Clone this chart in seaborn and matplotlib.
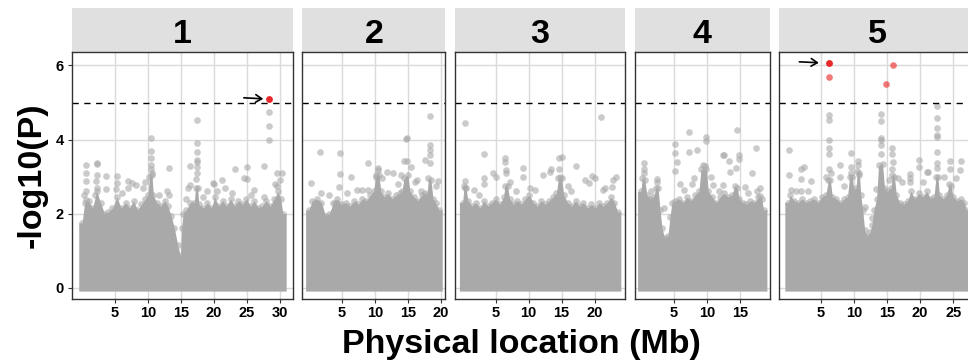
import numpy as np
import pandas as pd
import matplotlib
matplotlib.use("Agg")
import matplotlib.pyplot as plt
from matplotlib.patches import Rectangle
import seaborn as sns

# ---------------------------------------------------------------- data
chrom_names = ["1", "2", "3", "4", "5"]
chrom_length_mb = [30.43, 19.70, 23.46, 18.59, 26.98]
threshold = 5.0

# upper edge of the dense SNP cloud (position Mb, -log10 P)
chr1_envelope = [(0.0, 1.75), (0.4, 2.3), (1.0, 2.35), (1.6, 2.15), (2.2, 2.6), (2.8, 2.3),
                 (3.4, 2.0), (4.0, 2.05), (4.6, 2.15), (5.3, 2.45), (5.9, 2.15), (6.6, 2.3),
                 (7.2, 2.15), (7.8, 2.35), (8.4, 2.1), (9.0, 2.25), (9.6, 2.4), (10.0, 2.5),
                 (10.2, 3.0), (10.6, 3.05), (10.8, 2.5), (11.3, 2.3), (11.9, 2.2), (12.5, 2.35),
                 (13.0, 2.2), (13.5, 1.95), (14.0, 1.6), (14.5, 1.15), (14.9, 0.85), (15.1, 1.6),
                 (15.3, 2.0), (15.8, 2.1), (16.4, 2.3), (17.0, 2.3), (17.2, 2.7), (17.5, 2.7),
                 (17.7, 2.25), (18.4, 2.15), (19.0, 2.3), (19.6, 2.15), (20.1, 2.45), (20.7, 2.2),
                 (21.3, 2.35), (21.9, 2.2), (22.5, 2.4), (23.1, 2.2), (23.7, 2.35), (24.3, 2.25),
                 (24.9, 2.4), (25.5, 2.2), (26.1, 2.35), (26.7, 2.15), (27.3, 2.2), (27.9, 2.35),
                 (28.5, 2.2), (29.1, 2.4), (29.7, 2.6), (30.1, 2.4), (30.43, 2.0)]
chr2_envelope = [(0.0, 2.1), (0.5, 2.35), (1.2, 2.4), (1.9, 2.3), (2.5, 1.95), (3.1, 2.0),
                 (3.7, 2.3), (4.3, 2.4), (4.9, 2.25), (5.6, 2.3), (6.2, 2.2), (6.9, 2.35),
                 (7.5, 2.25), (8.1, 2.4), (8.7, 2.35), (9.3, 2.5), (9.8, 2.6), (10.1, 3.0),
                 (10.6, 3.05), (10.9, 2.6), (11.4, 2.45), (12.0, 2.55), (12.6, 2.4), (13.2, 2.5),
                 (13.8, 2.55), (14.1, 2.6), (14.4, 2.95), (15.0, 3.05), (15.3, 2.6), (15.9, 2.45),
                 (16.5, 2.35), (17.1, 2.5), (17.6, 2.55), (17.9, 2.5), (18.1, 2.95), (18.5, 2.9),
                 (18.8, 2.4), (19.2, 2.3), (19.7, 2.1)]
chr3_envelope = [(0.0, 2.3), (0.2, 2.75), (0.5, 2.7), (0.8, 2.35), (1.4, 2.2), (2.0, 2.3),
                 (2.6, 2.15), (3.2, 2.35), (3.8, 2.2), (4.4, 2.3), (5.0, 2.4), (5.6, 2.25),
                 (6.2, 2.45), (6.4, 2.75), (6.8, 2.75), (7.1, 2.4), (7.7, 2.25), (8.3, 2.35),
                 (8.9, 2.25), (9.5, 2.4), (10.1, 2.5), (10.7, 2.3), (11.3, 2.2), (11.9, 2.35),
                 (12.5, 2.25), (13.1, 2.35), (13.7, 2.45), (14.2, 2.55), (14.5, 2.95),
                 (15.0, 2.95), (15.3, 2.5), (15.9, 2.3), (16.5, 2.2), (17.1, 2.35), (17.7, 2.2),
                 (18.3, 2.3), (18.9, 2.15), (19.5, 2.25), (20.1, 2.15), (20.7, 2.3), (21.3, 2.2),
                 (21.9, 2.3), (22.5, 2.45), (23.0, 2.3), (23.46, 2.05)]
chr4_envelope = [(0.0, 2.6), (0.2, 2.95), (0.6, 2.9), (0.9, 2.5), (1.4, 2.4), (1.9, 2.45),
                 (2.3, 2.7), (2.6, 2.7), (2.9, 2.1), (3.2, 1.6), (3.6, 1.35), (4.1, 1.4),
                 (4.4, 1.9), (4.7, 2.3), (5.2, 2.35), (5.8, 2.4), (6.4, 2.3), (7.0, 2.45),
                 (7.6, 2.35), (8.2, 2.5), (8.8, 2.6), (9.1, 3.2), (9.9, 3.2), (10.2, 2.6),
                 (10.8, 2.45), (11.4, 2.3), (12.0, 2.45), (12.6, 2.55), (13.2, 2.45), (13.8, 2.5),
                 (14.2, 2.75), (14.6, 2.7), (14.9, 2.4), (15.4, 2.3), (16.0, 2.25), (16.6, 2.35),
                 (17.2, 2.3), (17.8, 2.45), (18.3, 2.4), (18.59, 2.1)]
chr5_envelope = [(0.0, 2.3), (0.3, 2.5), (0.9, 2.35), (1.5, 2.3), (2.1, 2.4), (2.7, 2.3),
                 (3.3, 2.35), (3.9, 2.4), (4.5, 2.3), (5.1, 2.45), (5.7, 2.5), (6.1, 2.9),
                 (6.4, 2.9), (6.7, 2.45), (7.3, 2.4), (7.9, 2.3), (8.5, 2.4), (9.0, 2.45),
                 (9.3, 3.0), (9.7, 3.0), (10.0, 2.6), (10.3, 2.7), (10.5, 3.15), (10.8, 3.1),
                 (11.0, 2.5), (11.3, 2.1), (11.6, 1.55), (12.0, 1.4), (12.4, 1.5), (12.7, 1.7),
                 (13.0, 2.1), (13.4, 2.4), (13.7, 3.3), (14.3, 3.35), (14.6, 2.7), (15.0, 2.6),
                 (15.6, 2.7), (15.8, 3.05), (16.1, 3.0), (16.4, 2.5), (16.9, 2.3), (17.5, 2.25),
                 (18.1, 2.35), (18.6, 2.6), (19.2, 2.4), (19.8, 2.55), (20.4, 2.45), (21.0, 2.6),
                 (21.6, 2.4), (22.1, 2.45), (22.4, 3.0), (22.7, 3.0), (22.9, 2.5), (23.5, 2.4),
                 (24.0, 2.5), (24.4, 2.8), (24.7, 2.75), (25.0, 2.45), (25.6, 2.35), (26.2, 2.4),
                 (26.7, 2.3), (26.98, 2.1)]

# individual SNPs standing above the cloud (position Mb, -log10 P)
chr1_snps = [(0.6, 3.31), (0.6, 3.11), (0.6, 2.87), (0.6, 2.60), (0.6, 2.37), (0.3, 2.5),
             (2.2, 3.37), (2.3, 3.33), (2.2, 3.04), (2.1, 2.87), (2.2, 2.69), (2.0, 2.5),
             (3.6, 3.02), (3.6, 2.66), (5.35, 3.02), (5.35, 2.82), (5.1, 2.66), (7.0, 2.88),
             (7.5, 2.84), (7.0, 2.7), (8.1, 2.78), (9.5, 2.86), (9.3, 2.69), (10.5, 4.03),
             (10.5, 3.69), (10.5, 3.49), (10.5, 3.31), (10.4, 3.2), (10.6, 3.1), (13.1, 3.24),
             (12.85, 2.61), (13.1, 2.5), (16.4, 3.29), (16.35, 2.78), (16.1, 2.69), (17.35, 4.52),
             (17.35, 3.91), (17.35, 3.67), (17.35, 3.46), (17.4, 3.40), (17.35, 3.27),
             (17.35, 3.09), (17.3, 2.93), (19.0, 2.60), (19.85, 2.82), (20.0, 2.8), (21.2, 2.9),
             (21.6, 2.69), (23.2, 3.2), (24.6, 2.95), (25.0, 3.26), (25.0, 2.94), (26.0, 2.64),
             (27.5, 3.29), (28.3, 4.75), (28.3, 4.36), (28.3, 4.0), (29.5, 3.1), (30.3, 3.1),
             (29.3, 2.8), (30.0, 2.9), (29.6, 2.75), (6.0, 2.55), (11.7, 2.5), (15.8, 2.4),
             (18.3, 2.45), (20.4, 2.6), (22.7, 2.55), (25.6, 2.5), (27.5, 2.45)]
chr2_snps = [(18.3, 4.63), (14.7, 4.02), (14.9, 4.04), (1.7, 3.67), (4.64, 3.65), (18.4, 3.85),
             (18.4, 3.72), (18.4, 3.58), (18.4, 3.36), (9.0, 3.38), (10.45, 3.24), (10.5, 3.18),
             (14.4, 3.43), (14.8, 3.43), (15.4, 3.27), (0.3, 2.84), (1.8, 2.57), (4.64, 3.06),
             (6.4, 3.0), (17.6, 3.45), (19.5, 2.89), (12.8, 3.09), (11.8, 3.13), (7.3, 2.65),
             (8.1, 2.65), (9.0, 2.64), (4.0, 2.28), (13.9, 3.04), (16.4, 2.9), (3.0, 2.5),
             (4.6, 2.72), (5.7, 2.55), (13.5, 2.8), (16.0, 2.85), (17.0, 2.62), (19.3, 2.75),
             (11.0, 2.95), (10.2, 3.05)]
chr3_snps = [(0.32, 4.45), (21.0, 4.6), (3.2, 3.6), (6.4, 3.49), (6.4, 3.4), (6.6, 3.18),
             (6.6, 3.09), (14.6, 3.5), (15.0, 3.53), (17.1, 3.29), (9.1, 3.22), (9.1, 3.0),
             (13.4, 3.2), (13.2, 3.12), (12.2, 3.04), (0.3, 2.87), (0.3, 2.69), (4.65, 3.09),
             (5.0, 3.0), (23.2, 3.0), (22.7, 2.9), (22.6, 2.72), (20.0, 2.96), (18.6, 2.9),
             (19.1, 2.82), (19.6, 3.02), (21.2, 2.65), (21.5, 2.68), (3.2, 2.95), (3.2, 2.8),
             (1.7, 2.65), (7.2, 2.85), (10.2, 2.7), (11.0, 2.65), (15.9, 2.75), (16.4, 2.62),
             (14.6, 3.2), (14.8, 2.98), (8.1, 2.6), (2.5, 2.5)]
chr4_snps = [(14.55, 4.27), (7.3, 4.21), (9.8, 4.07), (9.8, 3.97), (5.2, 3.88), (5.2, 3.65),
             (5.4, 3.40), (5.2, 3.16), (7.3, 3.67), (8.55, 3.72), (12.4, 3.58), (12.6, 3.58),
             (13.3, 3.42), (14.9, 3.58), (14.9, 3.48), (14.4, 3.24), (13.5, 3.13), (17.4, 3.76),
             (16.9, 3.11), (0.5, 3.36), (0.5, 3.2), (0.5, 3.09), (2.5, 2.93), (2.4, 2.86),
             (8.0, 2.95), (7.8, 2.8), (9.4, 3.3), (9.7, 3.28), (10.6, 2.98), (11.0, 2.78),
             (12.5, 2.78), (15.8, 2.71), (17.6, 2.6), (18.1, 2.48), (18.0, 2.7), (6.0, 2.8),
             (6.5, 2.65), (3.5, 2.15), (1.5, 2.6), (11.8, 2.6), (16.3, 2.55)]
chr5_snps = [(0.15, 3.73), (0.15, 3.04), (2.0, 3.2), (2.4, 3.25), (1.9, 2.93), (3.5, 2.88),
             (0.5, 2.65), (1.2, 2.62), (2.0, 2.6), (3.0, 2.62), (6.25, 4.65), (6.25, 4.52),
             (6.25, 3.99), (6.25, 3.77), (6.25, 3.61), (6.25, 3.2), (5.75, 3.0), (6.5, 3.1),
             (7.8, 3.3), (7.9, 3.0), (9.5, 3.64), (9.5, 3.27), (9.5, 3.1), (10.65, 3.41),
             (10.65, 3.3), (10.7, 3.05), (14.1, 4.7), (14.1, 4.5), (14.1, 4.03), (14.1, 3.99),
             (14.1, 3.85), (14.0, 3.6), (15.8, 3.76), (15.8, 3.6), (15.85, 3.4), (15.8, 3.2),
             (15.3, 2.9), (13.3, 2.67), (11.7, 2.17), (12.65, 1.88), (16.7, 2.95), (17.3, 2.85),
             (18.5, 3.08), (18.5, 2.95), (18.5, 2.86), (19.85, 3.46), (19.85, 3.27), (21.0, 3.13),
             (21.2, 3.13), (22.5, 4.9), (22.5, 4.59), (22.5, 4.3), (22.5, 4.12), (22.5, 4.06),
             (22.5, 3.67), (22.5, 3.36), (22.5, 3.22), (24.5, 3.43), (24.5, 3.2), (26.1, 3.18),
             (26.2, 3.42), (23.6, 3.0), (25.4, 2.95), (20.4, 2.85), (8.5, 2.75)]

# SNPs passing the threshold; lead SNPs are marked with an arrow
chr1_hits = [(28.3, 5.09)]
chr5_hits = [(6.25, 6.06), (6.25, 5.70), (14.84, 5.51), (15.83, 6.00)]
lead_snps = [("1", 28.3, 5.09), ("5", 6.25, 6.06)]

envelopes = [chr1_envelope, chr2_envelope, chr3_envelope, chr4_envelope, chr5_envelope]
snp_sets = [chr1_snps, chr2_snps, chr3_snps, chr4_snps, chr5_snps]
hit_sets = [chr1_hits, [], [], [], chr5_hits]

rows = []
for name, snps in zip(chrom_names, snp_sets):
    rows += [(name, p, v, "background") for p, v in snps]
for name, hits in zip(chrom_names, hit_sets):
    rows += [(name, p, v, "hit") for p, v in hits]
gwas = pd.DataFrame(rows, columns=["chr", "pos", "logp", "kind"])

# ---------------------------------------------------------------- style
sns.set_theme(style="white")
plt.rcParams["font.family"] = ["Liberation Sans", "DejaVu Sans"]
plt.rcParams["font.weight"] = "bold"

GREY = "#A9A9A9"
RED = "#E82020"
GRID = "#DADADA"
FRAME = "#333333"
POINT_S = 23

W, H = 968, 362
fig = plt.figure(figsize=(W / 100, H / 100), dpi=100)

px_per_mb = 6.6
panel_gap = 9.5
panel_left, panel_top, panel_bottom = 72.0, 52.0, 299.0
strip_h = 44.0
panel_h = panel_bottom - panel_top

ymax = max(gwas["logp"].max(), threshold)
ylim = (-0.05 * ymax, 1.05 * ymax)

x0 = panel_left
for i, (name, length) in enumerate(zip(chrom_names, chrom_length_mb)):
    width = px_per_mb * 1.1 * length
    ax = fig.add_axes([x0 / W, (H - panel_bottom) / H, width / W, panel_h / H])
    x0 += width + panel_gap

    xlim = (-0.05 * length, 1.05 * length)
    ax.set_xlim(*xlim)
    ax.set_ylim(*ylim)

    # dense cloud of non-significant SNPs
    env = np.array(envelopes[i])
    xf = np.r_[env[0, 0] - 0.5, env[:, 0], env[-1, 0] + 0.5]
    yf = np.r_[env[0, 1], env[:, 1], env[-1, 1]]
    ax.fill_between(xf, -0.09, yf, color=GREY, linewidth=0, zorder=2)
    sns.scatterplot(x=env[:, 0], y=env[:, 1], color=GREY, alpha=0.6, s=POINT_S,
                    linewidth=0, ax=ax, zorder=3, legend=False)

    sub = gwas[gwas["chr"] == name]
    bg = sub[sub["kind"] == "background"]
    sns.scatterplot(data=bg, x="pos", y="logp", color=GREY, alpha=0.6, s=POINT_S,
                    linewidth=0, ax=ax, zorder=3, legend=False)
    hits = sub[sub["kind"] == "hit"]
    if len(hits):
        sns.scatterplot(data=hits, x="pos", y="logp", color=RED, alpha=0.6, s=POINT_S,
                        linewidth=0, ax=ax, zorder=5, legend=False)

    for chrom, lp, lv in lead_snps:
        if chrom == name:
            sns.scatterplot(x=[lp], y=[lv], color=RED, alpha=0.9, s=POINT_S,
                            linewidth=0, ax=ax, zorder=6, legend=False)
            gap = 4.0 if chrom == "1" else 7.6
            start = 18.0 if chrom == "1" else 21.6
            ax.annotate("", xy=(lp, lv), xytext=(-start, 1.0), textcoords="offset points",
                        arrowprops=dict(arrowstyle="->,head_length=0.4,head_width=0.25",
                                        color="black", lw=1.2, mutation_scale=11,
                                        shrinkA=0, shrinkB=gap),
                        zorder=7)

    ax.axhline(threshold, color="black", lw=1.0, ls=(0, (4.5, 4)), zorder=4)

    ticks = np.arange(5, xlim[1], 5)
    ax.set_xticks(ticks)
    ax.set_xticklabels([f"{t:g}" for t in ticks])
    ax.set_yticks([0, 2, 4, 6])
    ax.grid(True, color=GRID, lw=1.0)
    ax.set_axisbelow(True)
    ax.set_xlabel("")
    ax.set_ylabel("")
    ax.tick_params(axis="both", length=3.0, width=0.8, color=FRAME, labelsize=10.5,
                   labelcolor="black", bottom=True, left=(i == 0), labelleft=(i == 0))
    ax.tick_params(axis="x", pad=2.2)
    ax.tick_params(axis="y", pad=3.0)
    for lab in ax.get_xticklabels() + ax.get_yticklabels():
        lab.set_fontweight("bold")
    for sp in ax.spines.values():
        sp.set_color(FRAME)
        sp.set_linewidth(1.0)
        sp.set_zorder(8)

    # facet strip
    ax.add_patch(Rectangle((0, 1), 1, strip_h / panel_h, transform=ax.transAxes,
                           clip_on=False, facecolor="#E0E0E0", edgecolor="none"))
    ax.text(0.5, 1 + 9.0 / panel_h, name, transform=ax.transAxes, ha="center",
            va="baseline", fontsize=24.5, fontweight="bold", color="black")

fig.text(32.5 / W, 1 - 175.5 / H, "-log10(P)", rotation=90, ha="center", va="center",
         fontsize=24.5, fontweight="bold", color="black")
fig.text(521 / W, (H - 352.5) / H, "Physical location (Mb)", ha="center", va="baseline",
         fontsize=24.5, fontweight="bold", color="black")

fig.savefig("out.png", dpi=100, facecolor="white")
